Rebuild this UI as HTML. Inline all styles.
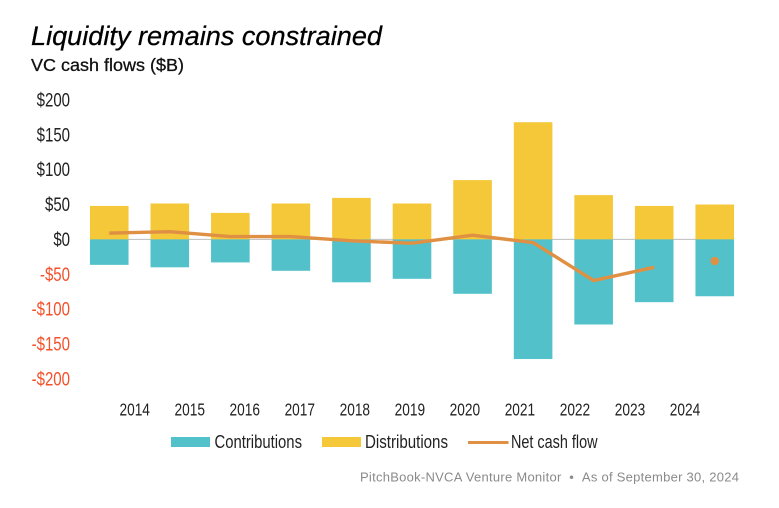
<!DOCTYPE html>
<html>
<head>
<meta charset="utf-8">
<style>
html,body{margin:0;padding:0;background:#fff;}
svg{display:block;}
text{font-family:"Liberation Sans",sans-serif;}
</style>
</head>
<body>
<svg id="chart" width="779" height="508" viewBox="0 0 779 508" xmlns="http://www.w3.org/2000/svg">
<rect x="0" y="0" width="779" height="508" fill="#fff"/>
<text x="31" y="45" font-size="27" font-style="italic" fill="#000" stroke="#000" stroke-width="0.25" textLength="351" lengthAdjust="spacingAndGlyphs">Liquidity remains constrained</text>
<text x="31" y="71" font-size="17.5" fill="#111" stroke="#111" stroke-width="0.3" textLength="153" lengthAdjust="spacingAndGlyphs">VC cash flows ($B)</text>
<g id="plot"></g>
<g>
<g>
<rect x="171" y="437" width="39" height="10" fill="#52c1c9"/>
<text x="214.5" y="448" font-size="18" fill="#222" textLength="87.5" lengthAdjust="spacingAndGlyphs">Contributions</text>
</g>
<g>
<rect x="322" y="437" width="39" height="10" fill="#f4c838"/>
<text x="365" y="448" font-size="18" fill="#222" textLength="83" lengthAdjust="spacingAndGlyphs">Distributions</text>
</g>
<g>
<line x1="468" y1="442.5" x2="508.5" y2="442.5" stroke="#e09043" stroke-width="3"/>
<text x="511" y="448" font-size="18" fill="#222" textLength="86.5" lengthAdjust="spacingAndGlyphs">Net cash flow</text>
</g>
</g>
<text x="360" y="481.5" font-size="13" fill="#8a8a8a" textLength="379" lengthAdjust="spacing">PitchBook-NVCA Venture Monitor&#160;&#160;•&#160;&#160;As of September 30, 2024</text>
</svg>
<script>
const years = ['2014','2015','2016','2017','2018','2019','2020','2021','2022','2023','2024'];
const contributions = [-36.5,-40,-33,-45,-61.5,-56.5,-78,-171.5,-122,-90,-81.5];
const distributions = [48,51.5,38,51.5,59.5,51.5,85,168,63.5,48,50];
const netCashFlow = [9,11,4,4,-2,-5.5,6,-4.5,-59,-40,-31];
const yTicks = [200,150,100,50,0,-50,-100,-150,-200];
const NS = 'http://www.w3.org/2000/svg';
const plot = document.getElementById('plot');
function yScale(v){ return 239.4 - v * 0.6975; }
function xBand(i){ return 109.25 + i * 60.55; }
function xLabelPos(i){ return 134.7 + i * 55.03; }
const BAR_W = 38.6;
function mk(tag, attrs){
  const el = document.createElementNS(NS, tag);
  for (const k in attrs) el.setAttribute(k, attrs[k]);
  plot.appendChild(el);
  return el;
}
const zero = mk('line', {x1:90, x2:734, y1:yScale(0), y2:yScale(0), stroke:'#bdbdbd', 'stroke-width':1});


yTicks.forEach(function(v){
  const label = (v < 0 ? '-' : '') + '$' + Math.abs(v);
  const t = mk('text', {'text-anchor':'end', 'font-size':19, fill: v < 0 ? '#f4512b' : '#222',
    transform:'translate(70,' + (yScale(v) + 6.5) + ') scale(0.79,1)'});
  t.textContent = label;
  
  
});
years.forEach(function(y, i){
  const c = xBand(i);
  const top = yScale(distributions[i]);
  const bottom = yScale(contributions[i]);
  const d = mk('rect', {x:c - BAR_W/2, y:top, width:BAR_W, height:yScale(0) - top, fill:'#f4c838'});
  
  
  const b = mk('rect', {x:c - BAR_W/2, y:yScale(0), width:BAR_W, height:bottom - yScale(0), fill:'#52c1c9'});
  
  
  const t = mk('text', {'text-anchor':'middle', 'font-size':18, fill:'#222',
    transform:'translate(' + xLabelPos(i) + ',415.5) scale(0.76,1)'});
  t.textContent = y;
  
  
});
const lastLine = netCashFlow.length - 1;
const pts = netCashFlow.slice(0, lastLine).map(function(v, i){ return xBand(i) + ',' + yScale(v); }).join(' ');
const line = mk('polyline', {points:pts, fill:'none', stroke:'#e09043', 'stroke-width':3.4, 'stroke-linejoin':'round'});


const dot = mk('circle', {cx:xBand(lastLine), cy:yScale(netCashFlow[lastLine]), r:4.2, fill:'#e09043'});


</script>
</body>
</html>
